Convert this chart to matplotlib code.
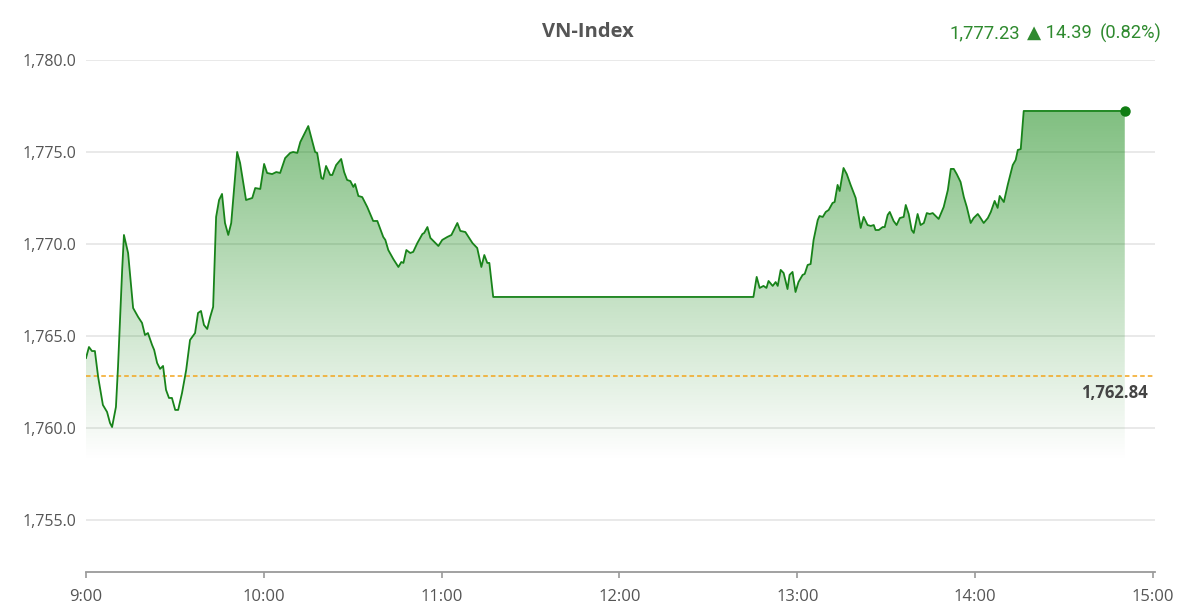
import numpy as np
import matplotlib
matplotlib.use('Agg')
import matplotlib.pyplot as plt
from matplotlib.ticker import FuncFormatter

# minutes after 9:00 and index value
minutes = [0.0, 1.0, 2.0, 3.0, 4.1, 5.7, 7.1, 8.1, 8.8, 10.1, 10.8, 12.2, 12.8, 14.2,
           15.9, 17.6, 18.9, 19.9, 20.9, 22.3, 23.0, 24.0, 25.0, 26.0, 27.0, 28.0,
           29.0, 30.1, 31.1, 32.4, 33.8, 35.1, 36.8, 37.8, 38.8, 39.8, 40.9, 41.9,
           42.9, 43.9, 44.9, 45.9, 46.9, 48.0, 49.0, 51.0, 52.0, 54.0, 56.1, 57.1,
           58.8, 60.1, 61.1, 62.8, 64.2, 65.5, 67.2, 68.9, 69.9, 71.3, 72.3, 75.0,
           77.3, 78.0, 79.4, 80.0, 81.0, 82.4, 83.1, 84.4, 86.1, 87.1, 88.1, 89.2,
           90.2, 90.8, 91.9, 93.2, 94.9, 96.9, 98.3, 100.3, 101.0, 102.0, 103.7,
           105.4, 106.4, 107.1, 108.1, 109.4, 110.4, 111.8, 113.5, 114.1, 115.2,
           116.2, 117.9, 118.9, 120.2, 121.9, 123.3, 125.3, 126.3, 128.0, 130.4,
           132.0, 133.4, 134.4, 135.4, 136.1, 137.4,
           225.2, 226.3, 227.3, 228.6, 229.6, 230.3, 231.7, 232.7, 233.4, 234.4,
           235.4, 236.7, 237.4, 238.4, 239.4, 240.4, 241.8, 242.5, 243.5, 244.5,
           245.5, 246.9, 247.5, 248.6, 249.6, 250.6, 251.9, 252.6, 253.6, 254.3,
           255.6, 256.7, 258.0, 259.7, 261.4, 262.4, 263.7, 264.8, 265.8, 266.4,
           267.5, 268.8, 269.5, 270.5, 271.2, 272.5, 273.5, 274.6, 275.9, 276.6,
           277.6, 278.6, 279.3, 280.6, 281.6, 282.7, 283.7, 284.7, 285.7, 286.7,
           287.7, 289.4, 290.8, 291.8, 292.8, 293.8, 295.1, 296.2, 297.2, 298.5,
           299.5, 300.9, 301.6, 302.9, 304.3, 305.3, 306.6, 307.6, 308.3, 309.7,
           311.0, 312.7, 313.7, 314.4, 315.4, 316.4, 350.5]
values = [1763.80, 1764.40, 1764.18, 1764.18, 1762.77, 1761.25, 1760.87, 1760.27,
          1760.05, 1761.14, 1763.32, 1768.59, 1770.49, 1769.51, 1766.52, 1766.03,
          1765.71, 1765.05, 1765.16, 1764.51, 1764.24, 1763.53, 1763.21, 1763.37,
          1762.07, 1761.63, 1761.63, 1760.98, 1760.98, 1761.90, 1763.15, 1764.78,
          1765.16, 1766.25, 1766.36, 1765.60, 1765.38, 1766.03, 1766.58, 1771.47,
          1772.39, 1772.72, 1771.14, 1770.49, 1771.14, 1775.00, 1774.40, 1772.39,
          1772.50, 1773.04, 1772.99, 1774.35, 1773.86, 1773.80, 1773.91, 1773.86,
          1774.67, 1774.95, 1775.00, 1774.95, 1775.54, 1776.41, 1775.00, 1774.95,
          1773.59, 1773.53, 1774.24, 1773.75, 1773.75, 1774.29, 1774.62, 1773.91,
          1773.48, 1773.42, 1773.10, 1773.26, 1772.61, 1772.55, 1772.01, 1771.25,
          1771.25, 1770.38, 1770.22, 1769.67, 1769.18, 1768.75, 1769.02, 1768.97,
          1769.67, 1769.51, 1769.57, 1770.05, 1770.54, 1770.60, 1770.92, 1770.33,
          1770.05, 1769.89, 1770.22, 1770.38, 1770.49, 1771.14, 1770.71, 1770.65,
          1770.05, 1769.78, 1768.75, 1769.40, 1768.97, 1768.97, 1767.12,
          1767.12, 1768.21, 1767.61, 1767.72, 1767.61, 1767.99, 1767.72, 1767.93,
          1767.72, 1768.59, 1768.42, 1767.55, 1768.32, 1768.48, 1767.39, 1767.93,
          1768.32, 1768.37, 1768.86, 1768.91, 1770.22, 1771.30, 1771.52, 1771.47,
          1771.74, 1771.85, 1772.23, 1772.28, 1773.21, 1772.88, 1774.13, 1773.80,
          1773.21, 1772.50, 1770.87, 1771.47, 1771.03, 1770.98, 1771.03, 1770.76,
          1770.76, 1770.92, 1770.92, 1771.58, 1771.74, 1771.25, 1771.03, 1771.41,
          1771.47, 1772.12, 1771.63, 1770.76, 1770.60, 1771.63, 1771.03, 1771.14,
          1771.68, 1771.63, 1771.68, 1771.52, 1771.36, 1772.01, 1772.93, 1774.08,
          1774.08, 1773.80, 1773.37, 1772.55, 1772.01, 1771.14, 1771.41, 1771.63,
          1771.47, 1771.14, 1771.41, 1771.74, 1772.34, 1771.96, 1772.61, 1772.28,
          1773.21, 1774.29, 1774.57, 1775.11, 1775.16, 1777.23, 1777.23]

reference = 1762.84
y_ticks = [1755, 1760, 1765, 1770, 1775, 1780]
x_ticks = [0, 60, 120, 180, 240, 300, 360]
x_labels = ['9:00', '10:00', '11:00', '12:00', '13:00', '14:00', '15:00']
last_text = '1,777.23'
change_text = '\u25B2 14.39'
pct_text = '(0.82%)'

plt.rcParams['font.family'] = ['Open Sans', 'DejaVu Sans']

W, H = 1180, 612
fig = plt.figure(figsize=(W / 100, H / 100), dpi=100)
ax = fig.add_axes([86 / W, 40 / H, (1155 - 86) / W, 512 / H])

x = np.array(minutes)
y = np.array(values)
ymin, ymax = 1752.17, 1780.0
ax.set_xlim(0, 360.7)
ax.set_ylim(ymin, ymax)

# grid
for v in y_ticks:
    ax.axhline(v, color='#e3e3e3', lw=1.1, zorder=0)

# gradient fill under the line
fill_bottom = 1758.2
poly = ax.fill_between(x, y, fill_bottom, color='none', lw=0)
top = y.max()
n = 256
alpha = np.linspace(0.0, 0.5, n).reshape(n, 1)
grad = np.zeros((n, 1, 4))
grad[..., 1] = 0.5
grad[..., 3] = alpha
img = ax.imshow(grad, extent=[x.min(), x.max(), fill_bottom, top], origin='lower',
                aspect='auto', zorder=1, interpolation='bilinear')
img.set_clip_path(poly.get_paths()[0], transform=ax.transData)

ax.plot(x, y, color='#18831a', lw=1.3, zorder=3)
ax.plot(x[-1], y[-1], 'o', color='#0f7d12', ms=6.5, zorder=4, clip_on=False)

# reference line
ax.axhline(reference, color='#f2a51c', lw=1.1, ls=(0, (3, 2)), zorder=2)
ax.text(358.3, reference - 0.45, f'{reference:,.2f}', ha='right', va='top',
        fontsize=12, fontweight='bold', color='#444444', zorder=5)

# axes styling
for s in ['top', 'left', 'right']:
    ax.spines[s].set_visible(False)
ax.spines['bottom'].set_color('#9a9a9a')
ax.spines['bottom'].set_linewidth(1.3)
ax.set_yticks(y_ticks)
ax.yaxis.set_major_formatter(FuncFormatter(lambda v, p: f'{v:,.1f}'))
ax.tick_params(axis='y', length=0, pad=7, labelsize=11.5, labelcolor='#555555')
ax.set_xticks(x_ticks)
ax.set_xticklabels(x_labels)
ax.tick_params(axis='x', length=4.5, width=1.2, color='#9a9a9a', pad=8,
               labelsize=12, labelcolor='#555555')

# header
fig.text(588 / W, 1 - 32 / H, 'VN-Index', ha='center', va='center',
         fontsize=14.5, fontweight='bold', color='#555555')
hdr = dict(va='center', fontsize=13.2, color='#2f8a2f', family=['Roboto', 'DejaVu Sans'])
fig.text(1020 / W, 1 - 33 / H, last_text, ha='right', **hdr)
fig.text(1027 / W, 1 - 33 / H, change_text, ha='left', **hdr)
fig.text(1162 / W, 1 - 33 / H, pct_text, ha='right', **hdr)

fig.savefig('out.png', dpi=100, facecolor='white')
